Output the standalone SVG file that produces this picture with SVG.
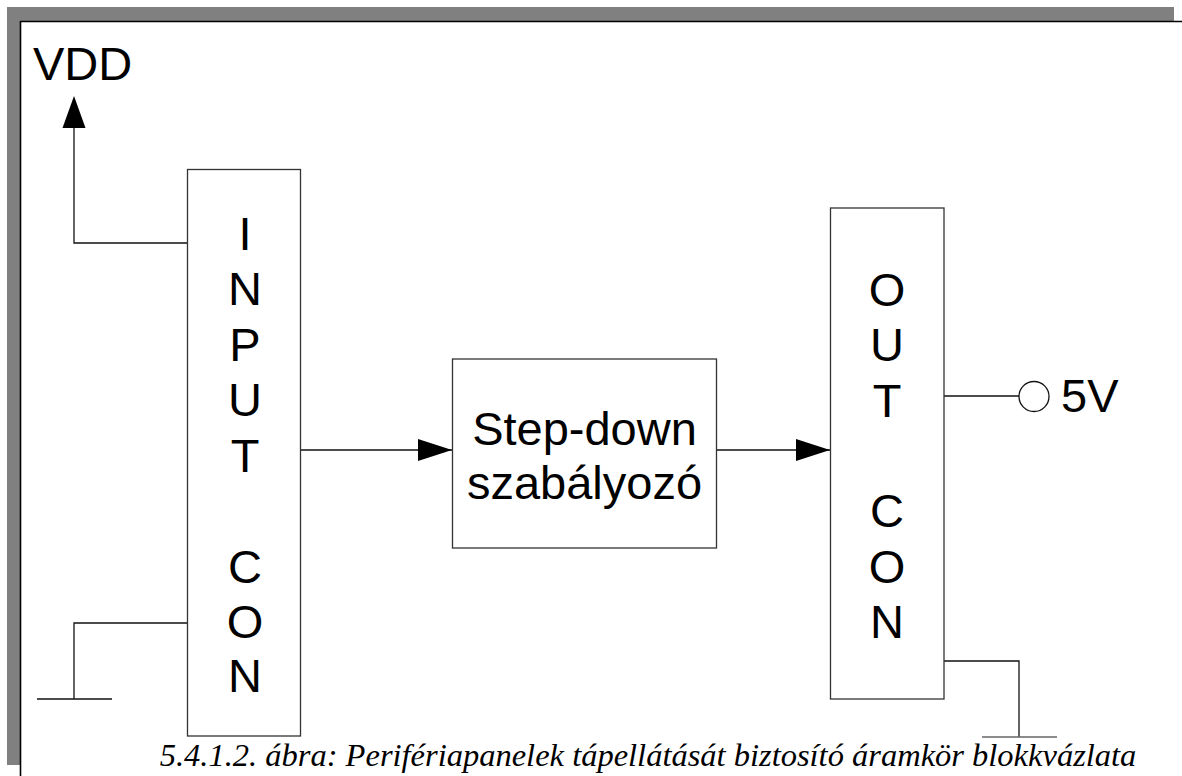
<svg xmlns="http://www.w3.org/2000/svg" width="1182" height="776" viewBox="0 0 1182 776">
  <style>
    .box { fill: #fff; stroke: #333; stroke-width: 1.3; }
    .wire { fill: none; stroke: #111; stroke-width: 1.3; }
    .lbl { font-family: "Liberation Sans", Arial, sans-serif; font-size: 47px; fill: #000; }
    .col { text-anchor: middle; }
    .cap { font-family: "Liberation Serif", "Times New Roman", serif; font-style: italic; font-size: 32.5px; fill: #000; text-anchor: middle; }
  </style>
  <defs>
    <marker id="arrow" viewBox="0 0 34 22" refX="34" refY="11" markerWidth="34" markerHeight="22" markerUnits="userSpaceOnUse" orient="auto">
      <path d="M0,0 L34,11 L0,22 Z" fill="#000"/>
    </marker>
  </defs>

  <rect width="1182" height="776" fill="#fff"/>

  <!-- page frame with shadow -->
  <g id="frame">
    <rect x="7" y="7" width="1167" height="14" fill="#808080"/>
    <rect x="7" y="7" width="13" height="758" fill="#808080"/>
    <line x1="20.5" y1="21" x2="20.5" y2="776" stroke="#000" stroke-width="1.6"/>
    <line x1="20" y1="21.5" x2="1182" y2="21.5" stroke="#000" stroke-width="1.6"/>
  </g>

  <!-- connectors -->
  <g id="connectors">
    <!-- VDD supply -->
    <polyline class="wire" points="188,243 74,243 74,128"/>
    <path d="M74,96 L85.5,128 L62.5,128 Z" fill="#000"/>
    <!-- input ground -->
    <polyline class="wire" points="188,623 74,623 74,699"/>
    <line class="wire" x1="37" y1="699" x2="112" y2="699"/>
    <!-- signal path -->
    <line class="wire" x1="301" y1="450" x2="452" y2="450" marker-end="url(#arrow)"/>
    <line class="wire" x1="717" y1="450" x2="830" y2="450" marker-end="url(#arrow)"/>
    <!-- 5V output -->
    <line class="wire" x1="944" y1="396" x2="1019" y2="396"/>
    <circle cx="1034" cy="396.5" r="15" fill="#fff" stroke="#111" stroke-width="1.3"/>
    <!-- output ground -->
    <polyline class="wire" points="944,661 1019,661 1019,737"/>
    <line x1="982" y1="737" x2="1057" y2="737" stroke="#666" stroke-width="1.4"/>
  </g>

  <g id="vdd">
    <text class="lbl" x="33" y="80" font-size="46">VDD</text>
  </g>

  <g id="input-con">
    <rect class="box" x="187.5" y="169.5" width="113" height="566.5"/>
    <text class="lbl col" x="245" y="250">I</text>
    <text class="lbl col" x="245" y="305">N</text>
    <text class="lbl col" x="245" y="361">P</text>
    <text class="lbl col" x="245" y="416">U</text>
    <text class="lbl col" x="245" y="472">T</text>
    <text class="lbl col" x="245" y="583">C</text>
    <text class="lbl col" x="245" y="638">O</text>
    <text class="lbl col" x="245" y="692">N</text>
  </g>

  <g id="step-down">
    <rect class="box" x="452.5" y="359" width="264" height="189"/>
    <text class="lbl col" x="584.5" y="445">Step-down</text>
    <text class="lbl col" x="584.5" y="499">szabályozó</text>
  </g>

  <g id="out-con">
    <rect class="box" x="830.5" y="208" width="113.5" height="491"/>
    <text class="lbl col" x="887" y="306">O</text>
    <text class="lbl col" x="887" y="361">U</text>
    <text class="lbl col" x="887" y="417">T</text>
    <text class="lbl col" x="887" y="527">C</text>
    <text class="lbl col" x="887" y="583">O</text>
    <text class="lbl col" x="887" y="638">N</text>
  </g>

  <g id="out-5v">
    <text class="lbl" x="1061" y="412">5V</text>
  </g>

  <text class="cap" x="648" y="766">5.4.1.2. ábra: Perifériapanelek tápellátását biztosító áramkör blokkvázlata</text>
</svg>
